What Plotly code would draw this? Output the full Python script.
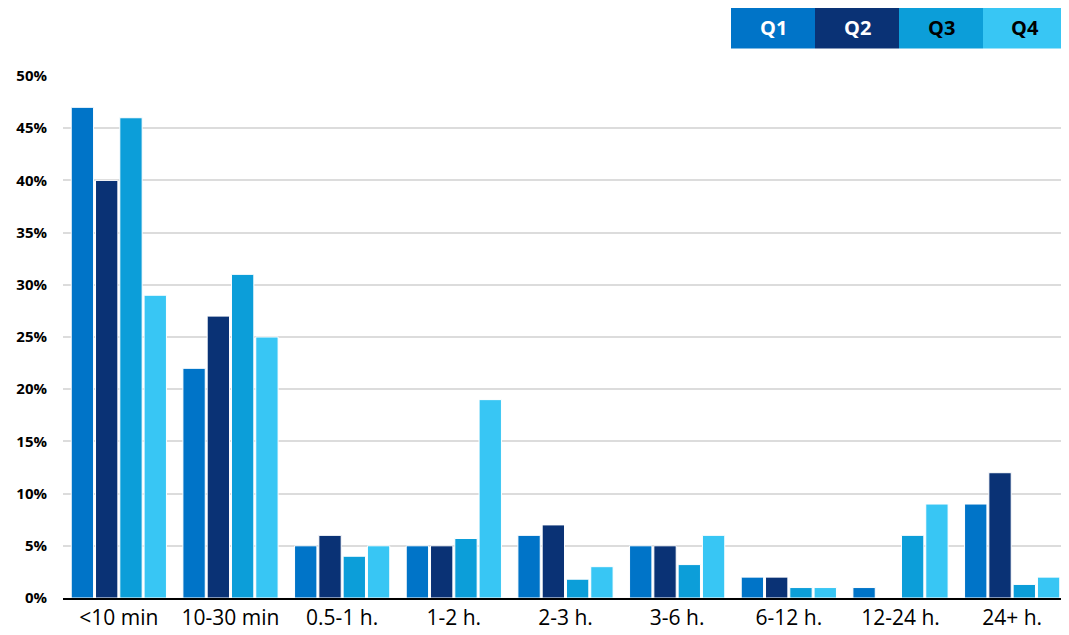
import plotly.graph_objects as go

categories = ["<10 min", "10-30 min", "0.5-1 h.", "1-2 h.", "2-3 h.", "3-6 h.", "6-12 h.", "12-24 h.", "24+ h."]
q1 = [47, 22, 5, 5, 6, 5, 2, 1, 9]
q2 = [40, 27, 6, 5, 7, 5, 2, 0, 12]
q3 = [46, 31, 4, 5.7, 1.8, 3.2, 1, 6, 1.3]
q4 = [29, 25, 5, 19, 3, 6, 1, 9, 2]
series_names = ["Q1", "Q2", "Q3", "Q4"]
series_values = [q1, q2, q3, q4]
colors = ["#0074C8", "#0A3275", "#0C9ED9", "#38C6F4"]
legend_text_colors = ["white", "white", "black", "black"]
y_ticks = [0, 5, 10, 15, 20, 25, 30, 35, 40, 45, 50]
y_tick_labels = [f"{v}%" for v in y_ticks]

fig = go.Figure()
for name, vals, col in zip(series_names, series_values, colors):
    fig.add_trace(go.Bar(
        x=categories, y=vals, name=name,
        marker=dict(color=col, line=dict(color="white", width=1)),
    ))

OFF = 8  # page body margin
W, H = 1069 - OFF, 635 - OFF
# target plot area in window pixels: x 63..1068, y 76..598
ml = 63 - OFF
mr = W + OFF - 1068
mt = 76 - OFF
mb = H + OFF - 598
pw, ph = W - ml - mr, H - mt - mb

FONT = "Open Sans, Lato, sans-serif"

# custom legend boxes (window pixel -> paper)
box_x0, box_w, box_y0, box_y1 = 731, 84, 7, 48.5
for i, (name, col, tcol) in enumerate(zip(series_names, colors, legend_text_colors)):
    x0 = (box_x0 + i * box_w - 63) / pw
    x1 = (box_x0 + (i + 1) * box_w - 63) / pw
    y0 = (598 - box_y1) / ph
    y1 = (598 - box_y0) / ph
    fig.add_shape(type="rect", xref="paper", yref="paper", x0=x0, x1=x1, y0=y0, y1=y1,
                  fillcolor=col, line=dict(width=0), layer="above")
    fig.add_annotation(xref="paper", yref="paper", x=(x0 + x1) / 2, y=(y0 + y1) / 2,
                       text=f"<b>{name}</b>", showarrow=False,
                       font=dict(family=FONT, size=20, color=tcol),
                       xanchor="center", yanchor="middle")

fig.update_layout(
    width=W, height=H,
    margin=dict(l=ml, r=mr, t=mt, b=mb),
    plot_bgcolor="white", paper_bgcolor="white",
    barmode="group", bargap=0.13, bargroupgap=0.08,
    showlegend=False,
    font=dict(family=FONT, color="black"),
)
fig.update_yaxes(
    range=[0, 50], tickvals=y_ticks, ticktext=[f"<b>{t}</b>" for t in y_tick_labels],
    showgrid=True, gridcolor="#DCDCDC", gridwidth=1.5,
    zeroline=False, showline=False, ticks="",
    tickfont=dict(size=15, color="black"), ticklabelstandoff=15,
)
fig.update_xaxes(
    showline=True, linecolor="black", linewidth=2, ticks="",
    tickfont=dict(size=21, color="black"), ticklabelstandoff=0,
)

fig.write_html("out.html")
